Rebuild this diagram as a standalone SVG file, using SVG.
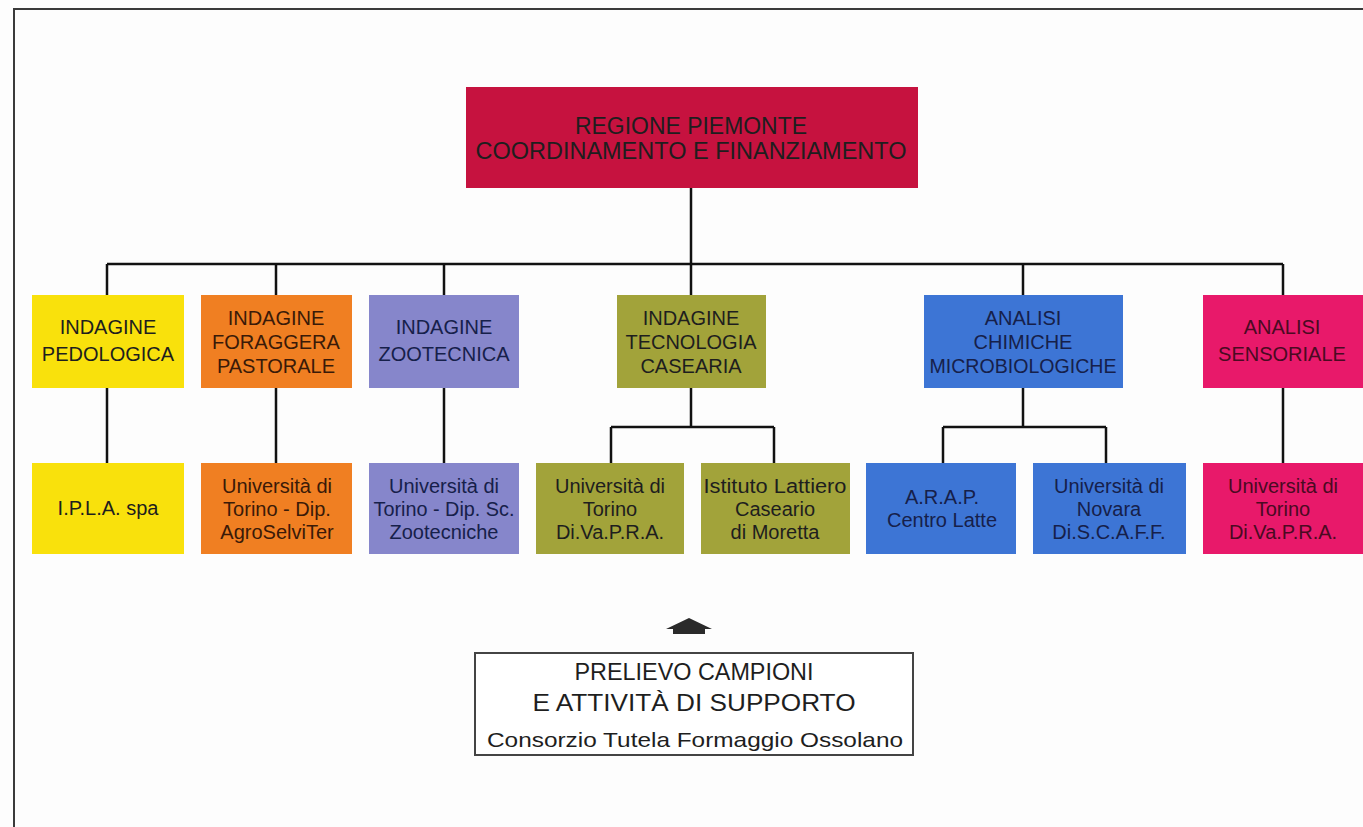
<svg xmlns="http://www.w3.org/2000/svg" width="1363" height="827" viewBox="0 0 1363 827">
<style>
text{font-family:"Liberation Sans",Arial,sans-serif;font-size:20px;fill:#1e1e1e;text-anchor:middle}
.big{font-size:23px}
.mid{font-size:21px}
.con{stroke:#111;stroke-width:2.5;fill:none}
.frame{stroke:#3a3a3a;stroke-width:2;fill:none}
.red{fill:#c6123f}.yel{fill:#f9e10c}.ora{fill:#f07f22}.lav{fill:#8686cb}.oli{fill:#a2a33a}.blu{fill:#3d75d5}.pin{fill:#e8196a}
.tb{fill:#16204a}.tp{fill:#4a0a22}.to{fill:#3a1a08}
</style>
<rect x="0" y="0" width="1363" height="827" fill="#fdfdfd"/>
<path class="frame" d="M14,827 V9 H1363"/>
<g id="connectors">
<path class="con" d="M691,188 V295"/>
<path class="con" d="M107,264 H1283"/>
<path class="con" d="M107,264 V295 M276,264 V295 M444,264 V295 M1023,264 V295 M1283,264 V295"/>
<path class="con" d="M107,388 V463 M276,388 V463 M444,388 V463 M1283,388 V463"/>
<path class="con" d="M691,388 V427 M611,427 H774 M611,427 V463 M774,427 V463"/>
<path class="con" d="M1023,388 V427 M943,427 H1106 M943,427 V463 M1106,427 V463"/>
<polygon points="689,618 712,629 705,629 705,634 673,634 673,629 666,629" fill="#2a2a2a"/>
</g>
<g id="regione">
<rect class="red" x="466" y="87" width="452" height="101"/>
<text class="big" x="691" y="134" textLength="232" lengthAdjust="spacingAndGlyphs">REGIONE PIEMONTE</text>
<text class="big" x="691" y="159" textLength="431" lengthAdjust="spacingAndGlyphs">COORDINAMENTO E FINANZIAMENTO</text>
</g>
<g id="pedologica">
<rect class="yel" x="32" y="295" width="152" height="93"/>
<text x="108" y="334">INDAGINE</text>
<text x="108" y="361">PEDOLOGICA</text>
</g>
<g id="foraggera">
<rect class="ora" x="201" y="295" width="151" height="93"/>
<text class="to" x="276" y="325">INDAGINE</text>
<text class="to" x="276" y="349">FORAGGERA</text>
<text class="to" x="276" y="373">PASTORALE</text>
</g>
<g id="zootecnica">
<rect class="lav" x="369" y="295" width="150" height="93"/>
<text class="tb" x="444" y="334">INDAGINE</text>
<text class="tb" x="444" y="361">ZOOTECNICA</text>
</g>
<g id="tecnologia">
<rect class="oli" x="617" y="295" width="149" height="93"/>
<text x="691" y="325">INDAGINE</text>
<text x="691" y="349">TECNOLOGIA</text>
<text x="691" y="373">CASEARIA</text>
</g>
<g id="chimiche">
<rect class="blu" x="924" y="295" width="199" height="93"/>
<text class="tb" x="1023" y="325">ANALISI</text>
<text class="tb" x="1023" y="349">CHIMICHE</text>
<text class="tb" x="1023" y="373" textLength="187" lengthAdjust="spacingAndGlyphs">MICROBIOLOGICHE</text>
</g>
<g id="sensoriale">
<rect class="pin" x="1203" y="295" width="160" height="93"/>
<text class="tp" x="1282" y="334">ANALISI</text>
<text class="tp" x="1282" y="361">SENSORIALE</text>
</g>
<g id="ipla">
<rect class="yel" x="32" y="463" width="152" height="91"/>
<text x="108" y="515">I.P.L.A. spa</text>
</g>
<g id="agroselviter">
<rect class="ora" x="201" y="463" width="151" height="91"/>
<text class="to" x="277" y="493">Università di</text>
<text class="to" x="277" y="516">Torino - Dip.</text>
<text class="to" x="277" y="539">AgroSelviTer</text>
</g>
<g id="zootecniche">
<rect class="lav" x="369" y="463" width="150" height="91"/>
<text class="tb" x="444" y="493">Università di</text>
<text class="tb" x="444" y="516" textLength="141" lengthAdjust="spacingAndGlyphs">Torino - Dip. Sc.</text>
<text class="tb" x="444" y="539">Zootecniche</text>
</g>
<g id="divapra1">
<rect class="oli" x="536" y="463" width="148" height="91"/>
<text x="610" y="493">Università di</text>
<text x="610" y="516">Torino</text>
<text x="610" y="539">Di.Va.P.R.A.</text>
</g>
<g id="moretta">
<rect class="oli" x="701" y="463" width="149" height="91"/>
<text x="775" y="493" textLength="143" lengthAdjust="spacingAndGlyphs">Istituto Lattiero</text>
<text x="775" y="516">Caseario</text>
<text x="775" y="539">di Moretta</text>
</g>
<g id="arap">
<rect class="blu" x="866" y="463" width="150" height="91"/>
<text class="tb" x="942" y="504">A.R.A.P.</text>
<text class="tb" x="942" y="527">Centro Latte</text>
</g>
<g id="novara">
<rect class="blu" x="1033" y="463" width="153" height="91"/>
<text class="tb" x="1109" y="493">Università di</text>
<text class="tb" x="1109" y="516">Novara</text>
<text class="tb" x="1109" y="539">Di.S.C.A.F.F.</text>
</g>
<g id="divapra2">
<rect class="pin" x="1203" y="463" width="160" height="91"/>
<text class="tp" x="1283" y="493">Università di</text>
<text class="tp" x="1283" y="516">Torino</text>
<text class="tp" x="1283" y="539">Di.Va.P.R.A.</text>
</g>
<g id="prelievo">
<rect x="475" y="653" width="438" height="102" fill="#ffffff" stroke="#444" stroke-width="2"/>
<text class="big" x="694" y="680" textLength="239" lengthAdjust="spacingAndGlyphs">PRELIEVO CAMPIONI</text>
<text class="big" x="694" y="711" textLength="323" lengthAdjust="spacingAndGlyphs">E ATTIVITÀ DI SUPPORTO</text>
<text class="mid" x="695" y="747" textLength="416" lengthAdjust="spacingAndGlyphs">Consorzio Tutela Formaggio Ossolano</text>
</g>
</svg>
